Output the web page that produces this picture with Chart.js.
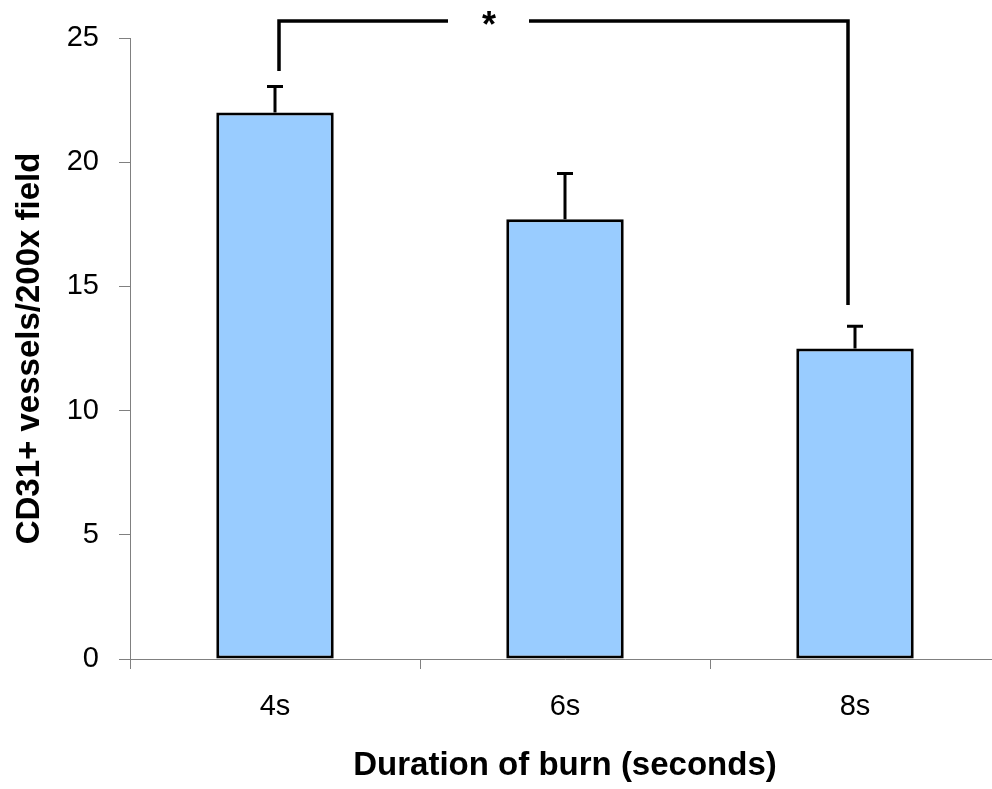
<!DOCTYPE html>
<html>
<head>
<meta charset="utf-8">
<script src="https://cdn.jsdelivr.net/npm/chart.js@4"></script>
<style>
  html, body { margin: 0; padding: 0; background: #fff; overflow: hidden; }
  #wrap { width: 1000px; height: 789px; }
</style>
</head>
<body>
<div id="wrap"><canvas id="chart"></canvas></div>
<script>
// data
const categories = ['4s', '6s', '8s'];
const means = [22.0, 17.7, 12.5];
const errors = [1.05, 1.85, 0.9];
const yTicks = [0, 5, 10, 15, 20, 25];

// significance bracket between 4s and 8s
const bracketFrom = 0;
const bracketTo = 2;
const bracketLevel = 25.68;
const bracketLegEnds = [23.67, 14.25];
const bracketLabel = '*';

const FONT = '"Liberation Sans", Arial, sans-serif';

// error bars + bracket drawn on top of the bars
const overlayPlugin = {
    id: 'overlay',
    afterDatasetsDraw(chart) {
        const ctx = chart.ctx;
        const x = chart.scales.x, y = chart.scales.y;
        ctx.save();
        ctx.strokeStyle = '#000';
        ctx.lineWidth = 3;
        ctx.lineCap = 'butt';

        // error bars (upper only)
        means.forEach((m, i) => {
            const cx = x.getPixelForValue(i);
            const top = y.getPixelForValue(m + errors[i]);
            const base = y.getPixelForValue(m);
            ctx.beginPath();
            ctx.moveTo(cx, base);
            ctx.lineTo(cx, top);
            ctx.moveTo(cx - 8, top);
            ctx.lineTo(cx + 8, top);
            ctx.stroke();
        });

        // bracket
        const lx = x.getPixelForValue(bracketFrom) + 4;
        const rx = x.getPixelForValue(bracketTo) - 7;
        const by = y.getPixelForValue(bracketLevel);
        const mid = (x.getPixelForValue(bracketFrom) + x.getPixelForValue(bracketTo)) / 2 - 76;
        ctx.lineWidth = 3.5;
        ctx.lineJoin = 'miter';
        ctx.beginPath();
        ctx.moveTo(lx, y.getPixelForValue(bracketLegEnds[0]));
        ctx.lineTo(lx, by);
        ctx.lineTo(mid - 41, by);
        ctx.moveTo(mid + 40, by);
        ctx.lineTo(rx, by);
        ctx.lineTo(rx, y.getPixelForValue(bracketLegEnds[1]));
        ctx.stroke();

        ctx.fillStyle = '#000';
        ctx.font = 'bold 36px ' + FONT;
        ctx.textAlign = 'center';
        ctx.textBaseline = 'middle';
        ctx.fillText(bracketLabel, mid, by + 6);
        ctx.restore();
    }
};

new Chart(document.getElementById('chart'), {
    type: 'bar',
    data: {
        labels: categories,
        datasets: [{
            data: means,
            backgroundColor: '#99CCFF',
            borderColor: '#000',
            borderWidth: 3,
            borderSkipped: false,
            categoryPercentage: 1,
            barPercentage: 0.405
        }]
    },
    options: {
        responsive: true,
        maintainAspectRatio: false,
        animation: false,
        layout: { padding: { top: 38, right: 0, left: 0, bottom: 0 } },
        plugins: { legend: { display: false }, tooltip: { enabled: false } },
        scales: {
            x: {
                offset: true,
                grid: { offset: true, drawOnChartArea: false, color: '#808080', tickLength: 10, lineWidth: 1 },
                border: { color: '#808080', width: 1 },
                ticks: { color: '#000', font: { family: FONT, size: 29 }, padding: 21 },
                title: {
                    display: true,
                    text: 'Duration of burn (seconds)',
                    color: '#000',
                    font: { family: FONT, size: 33, weight: 'bold' },
                    padding: { top: 0, bottom: 3 }
                },
                afterFit: s => { s.height = 130; }
            },
            y: {
                min: 0,
                max: 25,
                afterBuildTicks: s => { s.ticks = yTicks.map(v => ({ value: v })); },
                grid: { drawOnChartArea: false, color: '#808080', tickLength: 11, lineWidth: 1 },
                border: { color: '#808080', width: 1 },
                ticks: { color: '#000', font: { family: FONT, size: 29 }, padding: 20 },
                title: {
                    display: true,
                    text: 'CD31+ vessels/200x field',
                    color: '#000',
                    font: { family: FONT, size: 33, weight: 'bold' },
                    padding: { top: 10, bottom: 0 }
                },
                afterFit: s => { s.width = 130; }
            }
        }
    },
    plugins: [overlayPlugin]
});
</script>
</body>
</html>
